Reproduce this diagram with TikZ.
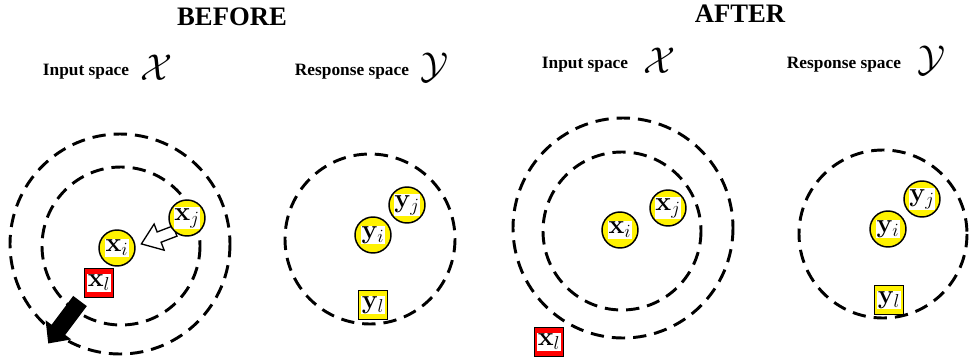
\RequirePackage{fix-cm}
\documentclass[tikz,border=0pt]{standalone}
\usepackage[no-math]{fontspec}
\setmainfont{Liberation Serif}
\setlength{\fboxsep}{0.6pt}
\newcommand{\wb}[1]{\colorbox{white}{$#1$}}
\begin{document}
\begin{tikzpicture}[x=0.75pt,y=-0.75pt,
  dcirc/.style={draw, line width=2.2pt, dash pattern=on 10pt off 6pt},
  ycirc/.style={circle, draw, line width=1.1pt, fill=yellow, minimum size=27pt, inner sep=0pt, font=\fontsize{20}{20}\selectfont},
  ysq/.style={rectangle, draw, line width=1.1pt, fill=yellow, minimum size=22pt, inner sep=0pt, font=\fontsize{20}{20}\selectfont},
  rsq/.style={rectangle, draw, line width=1.1pt, fill=red, minimum size=22pt, inner sep=0pt, font=\fontsize{20}{20}\selectfont},
  ttl/.style={font=\fontsize{20}{20}\selectfont\bfseries, inner sep=0pt},
  lab/.style={font=\fontsize{13}{13}\selectfont\bfseries, inner sep=0pt},
  cal/.style={font=\fontsize{28}{28}\selectfont, inner sep=0pt},
  blockarrow/.style={line width=1pt, line join=miter}]
\useasboundingbox (0,0) rectangle (971,362);

% titles and labels
\node[ttl] (tb) at (232,17) {BEFORE};
\node[ttl] (ta) at (740,14) {AFTER};
\node[lab] (lbi) at (86,72) {Input space};
\node[cal] (lbx) at (157,68) {$\mathcal{X}$};
\node[lab] (lbr) at (352,72) {Response space};
\node[cal] (lby) at (435,68) {$\mathcal{Y}$};
\node[lab] (lai) at (585,65) {Input space};
\node[cal] (lax) at (660,61) {$\mathcal{X}$};
\node[lab] (lar) at (844,65) {Response space};
\node[cal] (lay) at (931,61) {$\mathcal{Y}$};

% dashed circles
\draw[dcirc] (120,244) circle[radius=110];
\draw[dcirc] (121,246) circle[radius=79];
\draw[dcirc] (370,239) circle[radius=85];
\draw[dcirc] (623,228) circle[radius=110];
\draw[dcirc] (622,231) circle[radius=79];
\draw[dcirc] (883,234) circle[radius=84];

% black arrow (BEFORE)
\coordinate (bt) at (80,301);
\begin{scope}[shift={(bt)}, rotate=233.2, x=0.75pt, y=0.75pt]
  \fill[black] (0,-8.5) -- (36,-8.5) -- (36,-16) -- (53,0) -- (36,16) -- (36,8.5) -- (0,8.5) -- cycle;
\end{scope}

% white arrow (BEFORE)
\coordinate (wt) at (175,231);
\begin{scope}[shift={(wt)}, rotate=201, x=0.75pt, y=0.75pt]
  \draw[blockarrow, fill=white] (0,-5.5) -- (17,-5.5) -- (17,-14) -- (36,0) -- (17,14) -- (17,5.5) -- (0,5.5) -- cycle;
\end{scope}

% BEFORE input
\node[ycirc] (bxi) at (117,248) {\wb{\mathbf{x}_i}};
\node[ycirc] (bxj) at (187,218) {\wb{\mathbf{x}_j}};
\node[rsq] (bxl) at (99,283) {\wb{\mathbf{x}_l}};
% BEFORE response
\node[ycirc] (byi) at (373,235) {\wb{\mathbf{y}_i}};
\node[ycirc] (byj) at (407,205) {\wb{\mathbf{y}_j}};
\node[ysq] (byl) at (373,305) {\wb{\mathbf{y}_l}};
% AFTER input
\node[ycirc] (axi) at (620,230) {\wb{\mathbf{x}_i}};
\node[ycirc] (axj) at (668,208) {\wb{\mathbf{x}_j}};
\node[rsq] (axl) at (549,342) {\wb{\mathbf{x}_l}};
% AFTER response
\node[ycirc] (ayi) at (888,229) {\wb{\mathbf{y}_i}};
\node[ycirc] (ayj) at (922,199) {\wb{\mathbf{y}_j}};
\node[ysq] (ayl) at (889,300) {\wb{\mathbf{y}_l}};
\end{tikzpicture}
\end{document}
